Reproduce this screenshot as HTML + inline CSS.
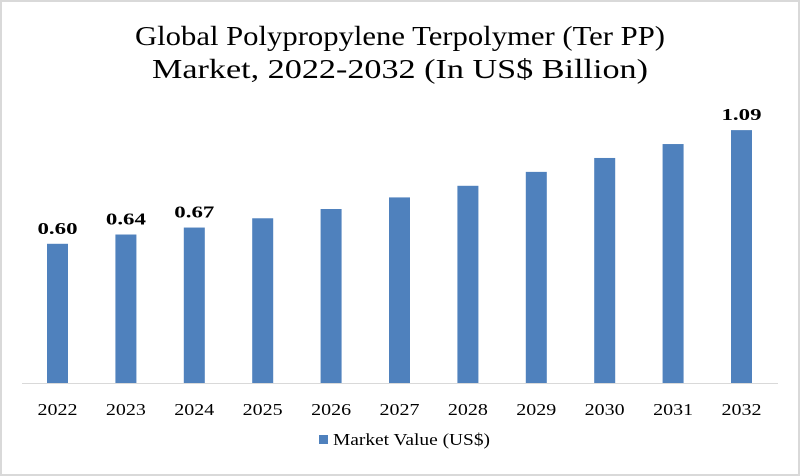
<!DOCTYPE html>
<html><head><meta charset="utf-8"><style>
html,body{margin:0;padding:0;background:#fff;}
#wrap{position:relative;width:800px;height:476px;box-sizing:border-box;border:2px solid #d9d9d9;overflow:hidden;font-family:"Liberation Serif",serif;}
svg{position:absolute;left:-2px;top:-2px;}
</style></head><body>
<div id="wrap">
<svg id="chart" width="800" height="476">
<text x="400" y="45" text-anchor="middle" font-size="27" textLength="530" lengthAdjust="spacingAndGlyphs" fill="#000">Global Polypropylene Terpolymer (Ter PP)</text>
<text x="400" y="78" text-anchor="middle" font-size="27" textLength="496" lengthAdjust="spacingAndGlyphs" fill="#000">Market, 2022-2032 (In US$ Billion)</text>
<line x1="22" y1="383.5" x2="778" y2="383.5" stroke="#d9d9d9" stroke-width="1"/>
<g id="bars"></g>
<rect x="319" y="435" width="9" height="9" fill="#4f81bd"/>
<text x="333" y="445" font-size="17" textLength="157" lengthAdjust="spacingAndGlyphs" fill="#000">Market Value (US$)</text>
</svg>
</div>
<script>
const categories=["2022","2023","2024","2025","2026","2027","2028","2029","2030","2031","2032"];
const values=[0.60,0.64,0.67,0.71,0.75,0.80,0.85,0.91,0.97,1.03,1.09];
const labels=["0.60","0.64","0.67","","","","","","","","1.09"];
const baseY=383, pxPerUnit=232, x0=57.5, step=68.4, bw=21;
function xScale(i){return x0+i*step;}
function yScale(v){return baseY-v*pxPerUnit;}
const g=document.getElementById('bars');
const NS="http://www.w3.org/2000/svg";
categories.forEach((c,i)=>{
  const r=document.createElementNS(NS,'rect');
  r.setAttribute('x',xScale(i)-bw/2);
  r.setAttribute('y',yScale(values[i]));
  r.setAttribute('width',bw);
  r.setAttribute('height',baseY-yScale(values[i]));
  r.setAttribute('fill','#4f81bd');
  
  
  g.appendChild(r);
  const t=document.createElementNS(NS,'text');
  t.setAttribute('x',xScale(i));
  t.setAttribute('y',415);
  t.setAttribute('text-anchor','middle');
  t.setAttribute('font-size','17');
  t.setAttribute('textLength','40');
  t.setAttribute('lengthAdjust','spacingAndGlyphs');
  t.textContent=c;
  
  
  g.appendChild(t);
  if(labels[i]){
    const l=document.createElementNS(NS,'text');
    l.setAttribute('x',xScale(i));
    l.setAttribute('y',yScale(values[i])-10);
    l.setAttribute('text-anchor','middle');
    l.setAttribute('font-size','17');
    l.setAttribute('font-weight','bold');
    l.setAttribute('textLength','40');
    l.setAttribute('lengthAdjust','spacingAndGlyphs');
    l.textContent=labels[i];
    
    
    g.appendChild(l);
  }
});
</script>
</body></html>
